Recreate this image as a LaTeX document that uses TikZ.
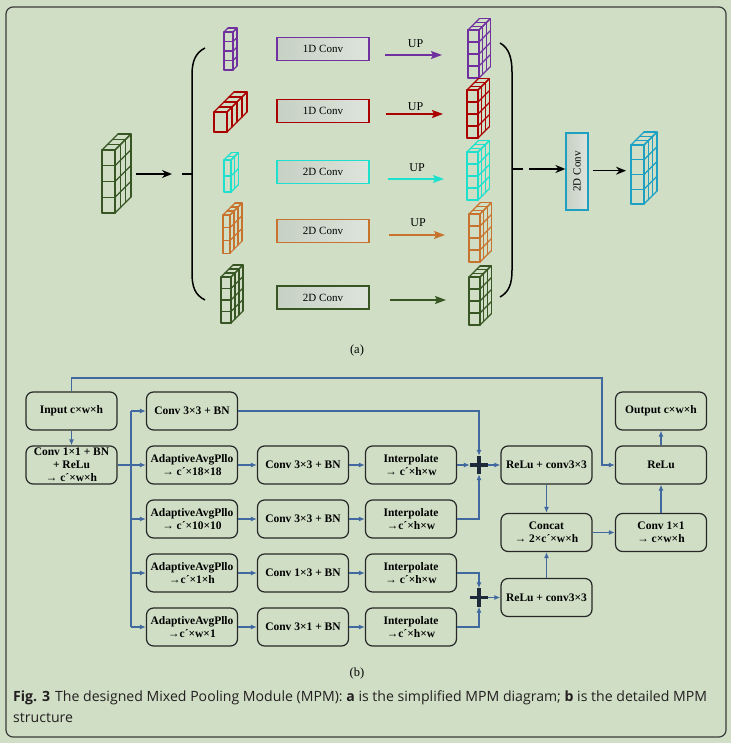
\documentclass[tikz,border=0pt]{standalone}
\usepackage{fontspec}
\setmainfont{Liberation Serif}
\newfontfamily\capfont{Open Sans}
\usetikzlibrary{arrows.meta,calc}
\definecolor{bgc}{RGB}{207,222,197}
\definecolor{framec}{RGB}{60,60,60}
\definecolor{purp}{RGB}{112,48,160}
\definecolor{redc}{RGB}{170,0,0}
\definecolor{cyanc}{RGB}{30,225,205}
\definecolor{orc}{RGB}{200,115,45}
\definecolor{dgr}{RGB}{55,86,35}
\definecolor{bluec}{RGB}{30,160,195}
\definecolor{convL}{RGB}{198,208,195}
\definecolor{convR}{RGB}{222,228,220}
\definecolor{bl}{RGB}{65,105,160}
\definecolor{boxc}{RGB}{40,40,40}
\definecolor{crossc}{RGB}{28,42,58}
\definecolor{capc}{RGB}{35,31,32}

\newcommand{\mycube}[9]{%
\begin{scope}
\pgfmathsetmacro{\cbW}{#4*#6}
\pgfmathsetmacro{\cbH}{#5*#7}
\pgfmathsetmacro{\cbD}{#8*#9}
\fill[bgc] (#2,#3) -- ++(\cbD,-\cbD) -- ++(\cbW,0) -- ++(0,\cbH) -- ++(-\cbD,\cbD) -- ++(-\cbW,0) -- cycle;
\begin{scope}[color=#1, line width=1.2pt, line cap=round, line join=round]
\foreach \i in {0,...,#6} \draw ({#2+\i*#4},#3) -- ++(\cbD,-\cbD);
\foreach \j in {0,...,#8} \draw ({#2+\j*#9},{#3-\j*#9}) -- ++(\cbW,0);
\foreach \r in {0,...,#7} \draw ({#2+\cbW},{#3+\r*#5}) -- ++(\cbD,-\cbD);
\foreach \j in {0,...,#8} \draw ({#2+\cbW+\j*#9},{#3-\j*#9}) -- ++(0,\cbH);
\foreach \i in {0,...,#6} \draw ({#2+\i*#4},#3) -- ++(0,\cbH);
\foreach \r in {0,...,#7} \draw (#2,{#3+\r*#5}) -- ++(\cbW,0);
\end{scope}
\end{scope}}

\tikzset{
  abox/.style={minimum width=92pt, minimum height=23pt, line width=1.3pt, left color=convL, right color=convR, font=\fontsize{11}{13}\selectfont, inner sep=0pt},
  uplab/.style={font=\fontsize{12}{13}\selectfont, inner sep=0pt},
  blk/.style={line width=1.5pt, -{Stealth[length=10pt,width=8pt]}},
  uparr/.style={line width=1.3pt, -{Stealth[length=11pt,width=8pt,inset=2pt]}},
  bbox/.style={draw=boxc, line width=1.2pt, rounded corners=7pt, minimum width=91pt, minimum height=38pt, font=\bfseries\fontsize{11.5}{13.2}\selectfont, align=center, inner sep=1pt},
  bln/.style={color=bl, line width=1.2pt},
  bla/.style={color=bl, line width=1.2pt, -{Latex[length=6pt,width=5pt]}},
  plusn/.style={minimum size=18pt, inner sep=0pt},
  crossst/.style={color=crossc, line width=3.5pt},
  sublab/.style={font=\fontsize{12.5}{14}\selectfont},
  capst/.style={anchor=base west, inner sep=0pt, font=\capfont\fontsize{14.1}{16}\selectfont, text=capc}
}

\begin{document}
\begin{tikzpicture}[x=1pt,y=-1pt]
\useasboundingbox (0,0) rectangle (731,743);
\fill[bgc] (0,0) rectangle (731,743);
\draw[framec, line width=1.2pt, rounded corners=7pt] (6,7) rectangle (726,737);

% ---------------- (a) ----------------
% input cube
\mycube{dgr}{102}{150}{13}{15.75}{1}{4}{3}{5.3}
% left cubes
\mycube{purp}{224}{32}{9}{9.5}{1}{4}{1}{4}
\mycube{redc}{214}{112}{13}{20}{1}{1}{4}{5}
\mycube{cyanc}{224}{160}{7}{16}{1}{2}{2}{3.7}
\mycube{orc}{223}{215}{7}{12.7}{1}{3}{3}{4}
\mycube{dgr}{221}{277}{10}{11.5}{1}{4}{3}{4}
% right cubes
\mycube{purp}{468}{30}{11}{12}{1}{4}{3}{3.7}
\mycube{redc}{467}{90}{11}{12}{1}{4}{3}{3.7}
\mycube{cyanc}{467}{152}{11}{12}{1}{4}{3}{3.7}
\mycube{orc}{469}{214}{11}{12}{1}{4}{3}{3.7}
\mycube{dgr}{469}{277}{11}{12}{1}{4}{3}{3.7}
% output cube
\mycube{bluec}{631}{145}{13}{14.75}{1}{4}{3}{4.3}

% brackets
\draw[line width=1.5pt] (205,48) .. controls (195,53) and (192,62) .. (192,75) -- (192,273) .. controls (192,287) and (195,295) .. (205,300);
\draw[line width=1.5pt] (192,174) -- (182,174);
\draw[line width=1.5pt] (500,43) .. controls (509,48) and (512,58) .. (512,72) -- (512,270) .. controls (512,284) and (509,292) .. (500,297);
\draw[line width=1.5pt] (512,169) -- (523,169);

% conv boxes
\node[abox, draw=purp] (b1) at (323,48.7) {1D Conv};
\node[abox, draw=redc] (b2) at (323,111) {1D Conv};
\node[abox, draw=cyanc] (b3) at (323,171.7) {2D Conv};
\node[abox, draw=orc] (b4) at (323,231) {2D Conv};
\node[abox, draw=dgr] (b5) at (323,297.5) {2D Conv};
\node[abox, draw=bluec, rotate=90, minimum width=77pt, minimum height=22pt, font=\fontsize{11}{12}\selectfont] (vc) at (577,171.5) {2D Conv};

% black arrows
\coordinate (ia) at (136,174); \coordinate (ib) at (172,174);
\draw[blk] (ia) -- (ib);
\coordinate (ja) at (529,169);
\draw[blk] (ja) -- (vc.north|-ja);
\coordinate (ka) at (593,170.7); \coordinate (kb) at (626,170.7);
\draw[blk] (ka) -- (kb);

% UP arrows
\coordinate (u1a) at (385,55); \coordinate (u1b) at (442,55);
\coordinate (u2a) at (386,114); \coordinate (u2b) at (443,114);
\coordinate (u3a) at (388,179); \coordinate (u3b) at (444,179);
\coordinate (u4a) at (389,235); \coordinate (u4b) at (445,235);
\coordinate (u5a) at (390,300); \coordinate (u5b) at (446,300);
\draw[uparr, purp] (u1a) -- (u1b);
\draw[uparr, redc] (u2a) -- (u2b);
\draw[uparr, cyanc] (u3a) -- (u3b);
\draw[uparr, orc] (u4a) -- (u4b);
\draw[uparr, dgr] (u5a) -- (u5b);
\node[uplab] (l1) at (415.5,43.5) {UP};
\node[uplab] (l2) at (415.5,107) {UP};
\node[uplab] (l3) at (417,167.5) {UP};
\node[uplab] (l4) at (418,223) {UP};

\node[sublab] (la) at (357,350) {(a)};

% ---------------- (b) ----------------
\node[bbox] (inp) at (71.5,411) {Input c×w×h};
\node[bbox] (cva) at (71.5,465) {Conv 1×1 + BN\\+ ReLu\\→ c´×w×h};
\node[bbox] (k1) at (192,411) {Conv 3×3 + BN};
\node[bbox] (a2) at (192,465) {AdaptiveAvgPllo\\→ c´×18×18};
\node[bbox] (a3) at (192,519) {AdaptiveAvgPllo\\→ c´×10×10};
\node[bbox] (a4) at (192,573) {AdaptiveAvgPllo\\→c´×1×h};
\node[bbox] (a5) at (192,627) {AdaptiveAvgPllo\\→c´×w×1};
\node[bbox] (k2) at (303,465) {Conv 3×3 + BN};
\node[bbox] (k3) at (303,519) {Conv 3×3 + BN};
\node[bbox] (k4) at (303,573) {Conv 1×3 + BN};
\node[bbox] (k5) at (303,627) {Conv 3×1 + BN};
\node[bbox] (i2) at (411,465) {Interpolate\\→ c´×h×w};
\node[bbox] (i3) at (411,519) {Interpolate\\→c´×h×w};
\node[bbox] (i4) at (411,573) {Interpolate\\→ c´×h×w};
\node[bbox] (i5) at (411,627) {Interpolate\\→c´×h×w};
\node[bbox] (r1) at (546.5,465) {ReLu + conv3×3};
\node[bbox] (cc) at (546.5,532.5) {Concat\\→ 2×c´×w×h};
\node[bbox] (r2) at (546.5,597.5) {ReLu + conv3×3};
\node[bbox] (out) at (661,411) {Output c×w×h};
\node[bbox] (rl) at (661,465) {ReLu};
\node[bbox] (c11) at (661,532.5) {Conv 1×1\\→ c×w×h};
\node[plusn] (p1) at (479,465) {};
\node[plusn] (p2) at (479,597.5) {};

% connectors
\coordinate (tl) at (71.5,378);
\coordinate (tr) at (602,378);
\draw[bla] (inp.north) -- (tl) -- (tr) |- (rl.west);
\draw[bla] (inp.south) -- (cva.north);
\coordinate (tk) at (131,465);
\draw[bln] (cva.east) -- (tk);
\draw[bln] (k1.west -| tk) -- (a5.west -| tk);
\draw[bla] (k1.west -| tk) -- (k1.west);
\draw[bla] (tk) -- (a2.west);
\draw[bla] (a3.west -| tk) -- (a3.west);
\draw[bla] (a4.west -| tk) -- (a4.west);
\draw[bla] (a5.west -| tk) -- (a5.west);
\foreach \n in {2,3,4,5} {
  \draw[bla] (a\n.east) -- (k\n.west);
  \draw[bla] (k\n.east) -- (i\n.west);
}
\draw[bla] (k1.east) -| (p1.north);
\draw[bla] (i2.east) -- (p1.west);
\draw[bla] (i3.east) -| (p1.south);
\draw[bla] (p1.east) -- (r1.west);
\draw[bla] (i4.east) -| (p2.north);
\draw[bla] (i5.east) -| (p2.south);
\draw[bla] (p2.east) -- (r2.west);
\draw[bla] (r1.south) -- (cc.north);
\draw[bla] (r2.north) -- (cc.south);
\draw[bla] (cc.east) -- (c11.west);
\draw[bla] (c11.north) -- (rl.south);
\draw[bla] (rl.north) -- (out.south);
\draw[crossst] (p1.north) -- (p1.south) (p1.west) -- (p1.east);
\draw[crossst] (p2.north) -- (p2.south) (p2.west) -- (p2.east);

\node[sublab] (lb) at (357,673) {(b)};

% caption
\node[capst] (cap1) at (13,701.7) {\textbf{Fig. 3}\hspace{5pt}The designed Mixed Pooling Module (MPM): \textbf{a} is the simplified MPM diagram; \textbf{b} is the detailed MPM};
\node[capst] (cap2) at (13,722.7) {structure};
\end{tikzpicture}
\end{document}
